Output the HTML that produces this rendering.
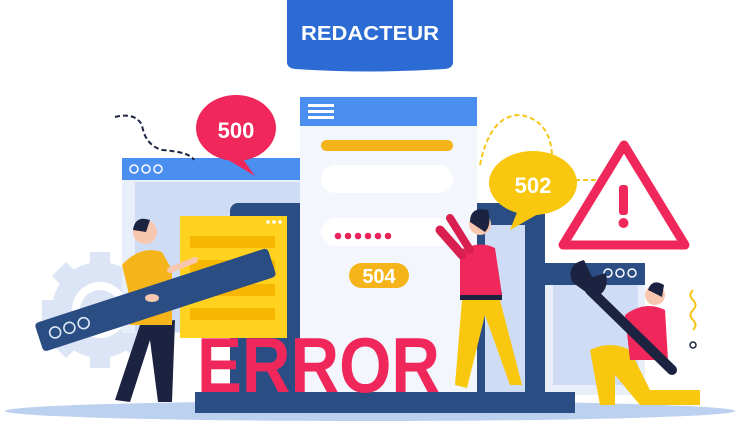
<!DOCTYPE html>
<html><head><meta charset="utf-8"><style>
html,body{margin:0;padding:0;background:#fff;}
svg{display:block}
text{font-family:"Liberation Sans",sans-serif;font-weight:bold}
</style></head><body>
<svg width="740" height="447" viewBox="0 0 740 447">
<!-- badge -->
<path d="M287 0 H453 V62 Q453 68 445 69 Q370 74 295 69 Q287 68 287 62 Z" fill="#2c6bd3"/>
<text x="370" y="40" font-size="20" fill="#fff" text-anchor="middle" textLength="138" lengthAdjust="spacingAndGlyphs">REDACTEUR</text>
<!-- floor -->
<ellipse cx="370" cy="411" rx="365" ry="10" fill="#bcd0ef"/>
<!-- gear -->
<g fill="#dbe5f6">
<circle cx="100" cy="310" r="48"/>
<rect x="90" y="252" width="20" height="116"/>
<rect x="42" y="300" width="116" height="20"/>
<rect x="90" y="252" width="20" height="116" transform="rotate(45 100 310)"/>
<rect x="90" y="252" width="20" height="116" transform="rotate(-45 100 310)"/>
</g>
<circle cx="100" cy="310" r="28" fill="#fff"/>
<circle cx="100" cy="310" r="20" fill="#dbe5f6"/>
<!-- left window -->
<rect x="122" y="158" width="180" height="175" fill="#e8eefa"/>
<rect x="135" y="182" width="167" height="150" fill="#cfdcf5"/>
<rect x="122" y="158" width="180" height="22" fill="#4a8ef0"/>
<g fill="none" stroke="#fff" stroke-width="1.5"><circle cx="134" cy="169" r="4"/><circle cx="146" cy="169" r="4"/><circle cx="158" cy="169" r="4"/></g>
<!-- dark window behind -->
<rect x="230" y="203" width="80" height="190" rx="8" fill="#2a4d84"/>
<rect x="470" y="203" width="75" height="200" fill="#2a4d84"/>
<rect x="485" y="225" width="40" height="170" fill="#cfdcf5"/>
<!-- right window -->
<rect x="545" y="263" width="100" height="132" fill="#e8eefa"/>
<rect x="553" y="285" width="85" height="100" fill="#cfdcf5"/>
<rect x="530" y="263" width="115" height="22" fill="#2a4d84"/>
<g fill="none" stroke="#fff" stroke-width="1.5"><circle cx="608" cy="273" r="4"/><circle cx="620" cy="273" r="4"/><circle cx="632" cy="273" r="4"/></g>
<!-- center panel -->
<rect x="300" y="97" width="177" height="296" fill="#f3f6fd"/>
<rect x="300" y="97" width="177" height="29" fill="#4a8ef0"/>
<g fill="#fff"><rect x="308" y="104" width="26" height="3"/><rect x="308" y="110" width="26" height="3"/><rect x="308" y="116" width="26" height="3"/></g>
<rect x="321" y="140" width="132" height="11" rx="5.5" fill="#f5b51a"/>
<rect x="321" y="165" width="132" height="28" rx="14" fill="#fff"/>
<rect x="321" y="218" width="132" height="28" rx="14" fill="#fff"/>
<g fill="#e8245a"><circle cx="338" cy="236" r="3.3"/><circle cx="348" cy="236" r="3.3"/><circle cx="358" cy="236" r="3.3"/><circle cx="368" cy="236" r="3.3"/><circle cx="378" cy="236" r="3.3"/><circle cx="388" cy="236" r="3.3"/></g>
<rect x="349" y="263" width="60" height="25" rx="12.5" fill="#f5b51a"/>
<text x="379" y="283" font-size="20" fill="#fff" text-anchor="middle">504</text>
<!-- post -->
<rect x="527" y="225" width="18" height="180" fill="#2a4d84"/>
<rect x="540" y="263" width="20" height="12" fill="#2a4d84"/>
<!-- yellow panel -->
<rect x="180" y="216" width="107" height="122" fill="#ffd21f"/>
<g fill="#f7b600"><rect x="190" y="236" width="85" height="12"/><rect x="190" y="260" width="85" height="12"/><rect x="190" y="284" width="85" height="12"/><rect x="190" y="308" width="85" height="12"/></g>
<g fill="#fff"><circle cx="268" cy="222" r="1.8"/><circle cx="274" cy="222" r="1.8"/><circle cx="280" cy="222" r="1.8"/></g>
<!-- bottom bar -->
<rect x="195" y="392" width="380" height="21" fill="#2a4d84"/>
<!-- ERROR -->
<text x="197" y="392" font-size="78" fill="#f0275a" textLength="243" lengthAdjust="spacingAndGlyphs">ERROR</text>
<!-- bubbles -->
<path d="M115 117 Q135 112 142 125 Q145 145 162 150 Q190 152 194 160" fill="none" stroke="#1c2340" stroke-width="2" stroke-dasharray="5 3"/>
<ellipse cx="236" cy="128" rx="40" ry="33" fill="#f0275a"/>
<path d="M240 155 L255 176 L225 158 Z" fill="#f0275a"/>
<text x="236" y="138" font-size="22" fill="#fff" text-anchor="middle">500</text>
<path d="M480 165 Q490 115 520 115 Q550 120 552 155" fill="none" stroke="#f5c518" stroke-width="2" stroke-dasharray="5 3"/>
<line x1="575" y1="180" x2="600" y2="180" stroke="#f5c518" stroke-width="2" stroke-dasharray="5 3"/>
<ellipse cx="533" cy="183" rx="44" ry="32" fill="#f9c80e"/>
<path d="M520 205 L510 230 L545 210 Z" fill="#f9c80e"/>
<text x="533" y="193" font-size="22" fill="#fff" text-anchor="middle">502</text>
<!-- warning -->
<path d="M624 145 L685 245 L563 245 Z" fill="none" stroke="#f0275a" stroke-width="9" stroke-linejoin="round"/>
<rect x="619" y="185" width="9" height="30" rx="3" fill="#f0275a"/>
<circle cx="623.5" cy="223" r="5" fill="#f0275a"/>
<path d="M693 290 q-5 5 0 10 q5 5 0 10 q-5 5 0 10 q5 5 0 10" fill="none" stroke="#f5c518" stroke-width="2"/>
<circle cx="693" cy="345" r="3" fill="none" stroke="#1c2340" stroke-width="1.5"/>
<!-- left person -->
<path d="M140 325 L115 400 L130 402 L150 340 L158 402 L172 402 L175 320 Z" fill="#1c2340"/>
<path d="M122 265 Q140 245 162 252 L172 270 L172 325 L130 325 L128 290 Z" fill="#f5b51a"/>
<circle cx="145" cy="232" r="12" fill="#f8c7b0"/>
<path d="M133 230 Q135 215 150 220 L146 232 Z" fill="#1c2340"/>
<line x1="170" y1="270" x2="195" y2="260" stroke="#f8c7b0" stroke-width="6" stroke-linecap="round"/>
<!-- ruler -->
<g transform="rotate(-18 155 300)"><rect x="33" y="285" width="245" height="30" rx="4" fill="#2a4d84"/>
<g fill="none" stroke="#dfe8f8" stroke-width="1.6"><circle cx="50" cy="300" r="5.5"/><circle cx="65" cy="300" r="5.5"/><circle cx="80" cy="300" r="5.5"/></g></g>
<ellipse cx="152" cy="298" rx="7" ry="4" fill="#f8c7b0"/>
<!-- middle person -->
<path d="M462 300 L455 385 L467 388 L485 315 L510 385 L522 385 L500 300 Z" fill="#f9c80e"/>
<rect x="460" y="292" width="42" height="8" fill="#1c2340"/>
<path d="M460 250 Q480 240 495 248 L502 295 L460 295 Z" fill="#f0275a"/>
<path d="M462 255 L440 230" stroke="#d81f50" stroke-width="9" stroke-linecap="round"/>
<path d="M470 250 L450 218" stroke="#d81f50" stroke-width="8" stroke-linecap="round"/>
<circle cx="480" cy="224" r="11" fill="#f8c7b0"/>
<path d="M470 222 Q470 206 488 210 Q492 225 485 232 Z" fill="#1c2340"/>
<!-- right person -->
<path d="M590 350 Q610 340 630 350 L650 390 L700 390 L700 405 L640 405 L615 375 L615 405 L600 405 Z" fill="#f9c80e"/>
<path d="M625 315 Q645 300 665 310 L668 360 L630 360 Z" fill="#f0275a"/>
<circle cx="655" cy="295" r="10" fill="#f8c7b0"/>
<path d="M648 290 Q652 278 664 285 L662 297 Z" fill="#1c2340"/>
<line x1="590" y1="290" x2="672" y2="370" stroke="#1c2340" stroke-width="10" stroke-linecap="round"/>
<path d="M572 282 Q566 264 584 260 L592 277 L606 273 Q610 292 594 298 Z" fill="#1c2340"/>
</svg>
</body></html>
